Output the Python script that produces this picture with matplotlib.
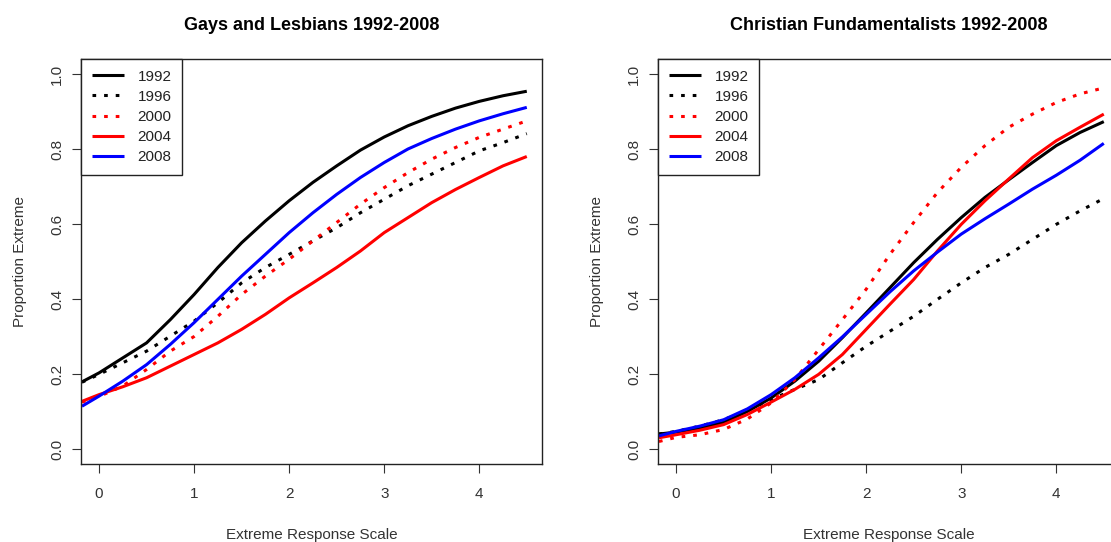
import matplotlib
matplotlib.use("Agg")
import matplotlib.pyplot as plt

plt.rcParams['font.family'] = ['Liberation Sans', 'DejaVu Sans']

xs = [-0.18, 0.0, 0.25, 0.5, 0.75, 1.0, 1.25, 1.5, 1.75, 2.0, 2.25,
      2.5, 2.75, 3.0, 3.25, 3.5, 3.75, 4.0, 4.25, 4.5]

years = ['1992', '1996', '2000', '2004', '2008']
colors = ['black', 'black', 'red', 'red', 'blue']
dotted = [False, True, True, False, False]

# Gays and Lesbians
gay_1992 = [0.179, 0.203, 0.243, 0.283, 0.345, 0.412, 0.484, 0.550, 0.608, 0.662,
            0.711, 0.755, 0.797, 0.832, 0.862, 0.887, 0.909, 0.927, 0.942, 0.954]
gay_1996 = [0.178, 0.199, 0.230, 0.261, 0.301, 0.341, 0.390, 0.443, 0.484, 0.519,
            0.555, 0.590, 0.630, 0.666, 0.702, 0.733, 0.764, 0.795, 0.817, 0.841]
gay_2000 = [0.125, 0.140, 0.168, 0.212, 0.261, 0.300, 0.354, 0.412, 0.461, 0.506,
            0.555, 0.604, 0.653, 0.697, 0.737, 0.773, 0.804, 0.831, 0.853, 0.875]
gay_2004 = [0.127, 0.145, 0.166, 0.190, 0.221, 0.252, 0.283, 0.319, 0.359, 0.403,
            0.443, 0.484, 0.528, 0.577, 0.617, 0.657, 0.692, 0.724, 0.755, 0.780]
gay_2008 = [0.114, 0.141, 0.181, 0.225, 0.279, 0.337, 0.399, 0.461, 0.519, 0.577,
            0.630, 0.679, 0.724, 0.764, 0.800, 0.828, 0.853, 0.875, 0.894, 0.911]

# Christian Fundamentalists
fun_1992 = [0.040, 0.045, 0.056, 0.071, 0.100, 0.136, 0.181, 0.234, 0.297, 0.363,
            0.430, 0.497, 0.559, 0.617, 0.671, 0.718, 0.764, 0.809, 0.844, 0.873]
fun_1996 = [0.040, 0.047, 0.061, 0.078, 0.103, 0.132, 0.159, 0.185, 0.230, 0.274,
            0.314, 0.354, 0.399, 0.443, 0.484, 0.519, 0.559, 0.599, 0.635, 0.668]
fun_2000 = [0.020, 0.031, 0.038, 0.052, 0.080, 0.123, 0.185, 0.265, 0.345, 0.426,
            0.519, 0.604, 0.684, 0.751, 0.809, 0.858, 0.893, 0.924, 0.947, 0.963]
fun_2004 = [0.030, 0.038, 0.050, 0.065, 0.092, 0.125, 0.159, 0.199, 0.252, 0.319,
            0.386, 0.452, 0.528, 0.599, 0.662, 0.720, 0.777, 0.822, 0.858, 0.893]
fun_2008 = [0.035, 0.047, 0.061, 0.078, 0.107, 0.145, 0.190, 0.243, 0.299, 0.359,
            0.419, 0.475, 0.525, 0.573, 0.614, 0.653, 0.693, 0.730, 0.770, 0.815]

panels = [
    ("Gays and Lesbians 1992-2008", [gay_1992, gay_1996, gay_2000, gay_2004, gay_2008]),
    ("Christian Fundamentalists 1992-2008", [fun_1992, fun_1996, fun_2000, fun_2004, fun_2008]),
]

fig = plt.figure(figsize=(11.11, 5.42), dpi=100)
W, H = 1111.0, 542.0
lefts = [81, 658]   # box left edge in pixels
box_w, box_top, box_bot = 461, 59, 464

for (title, series), left in zip(panels, lefts):
    ax = fig.add_axes([left / W, (H - box_bot) / H, box_w / W, (box_bot - box_top) / H])
    for ys, yr, c, dt in zip(series, years, colors, dotted):
        if dt:
            ax.plot(xs, ys, color=c, lw=2.2, linestyle=(0, (1.2, 2.6)),
                    dash_capstyle='butt', label=yr)
        else:
            ax.plot(xs, ys, color=c, lw=2.2, label=yr, solid_capstyle='butt')

    ax.set_xlim(-0.19, 4.66)
    ax.set_ylim(-0.04, 1.04)
    ax.set_xticks([0, 1, 2, 3, 4])
    ax.set_yticks([0.0, 0.2, 0.4, 0.6, 0.8, 1.0])
    ax.set_yticklabels(['0.0', '0.2', '0.4', '0.6', '0.8', '1.0'])
    ax.tick_params(axis='both', length=6.5, width=0.8, color='#333333',
                   labelcolor='#333333', labelsize=11)
    ax.tick_params(axis='x', pad=10)
    ax.tick_params(axis='y', pad=5.5, labelrotation=90)
    for lab in ax.get_yticklabels():
        lab.set_va('center')
    for sp in ax.spines.values():
        sp.set_color('#222222')
        sp.set_linewidth(1.0)

    ax.set_xlabel("Extreme Response Scale", fontsize=11, color='#333333')
    ax.set_ylabel("Proportion Extreme", fontsize=11, color='#333333')
    ax.xaxis.set_label_coords(0.5, (box_bot - 535) / 405.0)
    ax.xaxis.label.set_va('center')
    ax.yaxis.set_label_coords((20 - 81) / 461.0, 0.5)
    ax.yaxis.label.set_va('center')

    ax.text(0.5, (box_bot - 25) / 405.0, title, transform=ax.transAxes,
            ha='center', va='center', fontsize=13, fontweight='bold')

    leg = ax.legend(loc='upper left', borderaxespad=0, fontsize=11,
                    fancybox=False, edgecolor='#222222', framealpha=1,
                    handlelength=2.1, handletextpad=0.9, labelspacing=0.4,
                    borderpad=0.7)
    leg.get_frame().set_linewidth(1.0)
    for t in leg.get_texts():
        t.set_color('#222222')

fig.savefig("out.png", dpi=100)
